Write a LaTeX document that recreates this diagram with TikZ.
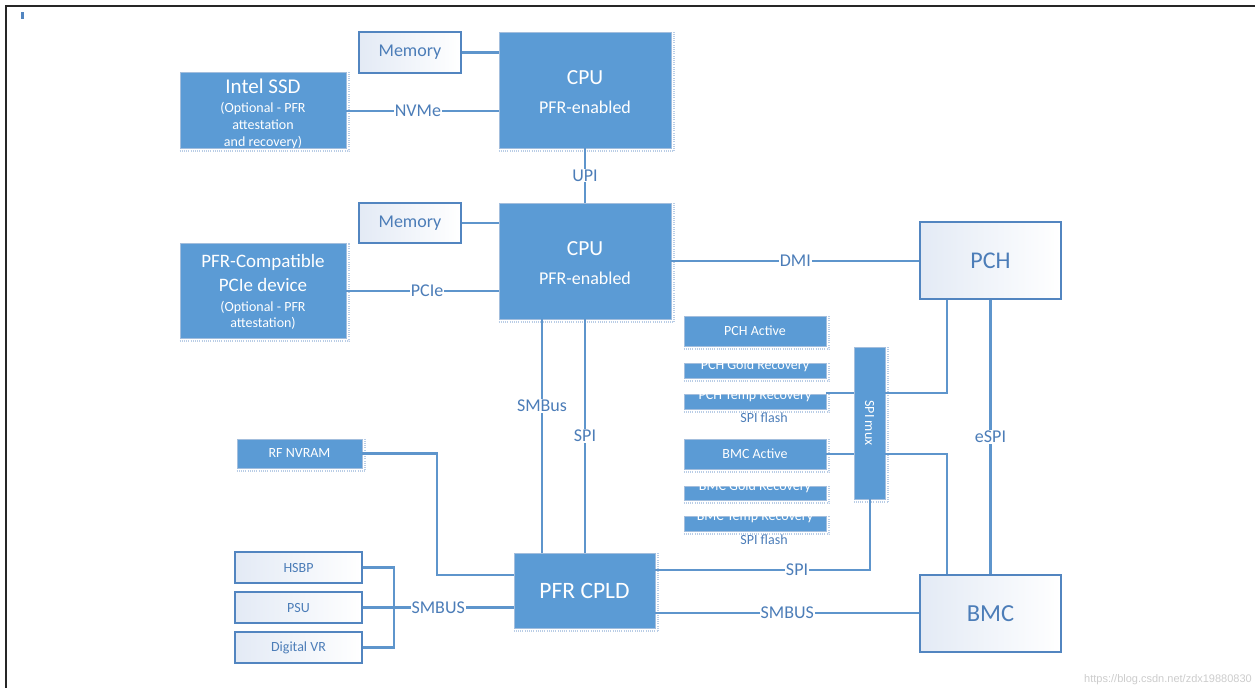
\documentclass[tikz,border=0pt]{standalone}
\usepackage{fontspec}
\setmainfont{Carlito}
\newfontfamily\wmfont{Liberation Sans}
\definecolor{cblue}{HTML}{5B9BD5}
\definecolor{cbord}{HTML}{A3BEDD}
\definecolor{cline}{HTML}{5E95CC}
\definecolor{ctext}{HTML}{4C7DB8}
\definecolor{cwb}{HTML}{5285C0}
\definecolor{cgrad}{HTML}{E3EAF5}
\definecolor{cdots}{HTML}{B9CDE6}
\begin{document}
\begin{tikzpicture}[x=1pt,y=-1pt,
  bbox/.style={fill=cblue, draw=cbord, line width=0.8pt, text=white, align=center, inner sep=0pt},
  wbox/.style={draw=cwb, line width=1.6pt, left color=cgrad, right color=white, text=ctext, align=center, inner sep=0pt},
  conn/.style={draw=cline, line width=2.2pt},
  lbl/.style={fill=white, text=ctext, inner sep=1pt, font=\fontsize{18}{20}\selectfont},
  sdots/.style={draw=cdots, line width=2pt, dash pattern=on 1pt off 1.2pt},
  wtxt/.style={text=white, inner sep=0pt},
  small/.style={font=\fontsize{14}{16}\selectfont},
]
\useasboundingbox (0,0) rectangle (1255,688);
% frame
\draw[black!85, line width=2pt] (1255,6) -- (6,6) -- (6,688);
\fill[cwb] (21,12) rectangle (23.5,19);

% blue boxes
\node[bbox, minimum width=172pt, minimum height=116pt] (cpu1) at (585,90) {};
\node[bbox, minimum width=166pt, minimum height=76pt] (ssd) at (263,110) {};
\node[bbox, minimum width=172pt, minimum height=116pt] (cpu2) at (585,261) {};
\node[bbox, minimum width=166pt, minimum height=95pt] (pfrdev) at (263,290.5) {};
\node[bbox, minimum width=31pt, minimum height=152pt] (mux) at (869.5,423) {};
\node[bbox, small, minimum width=142pt, minimum height=30pt] (pchact) at (755,331) {PCH Active};
\node[bbox, minimum width=142pt, minimum height=15pt] (pchgold) at (755,370.5) {};
\node[bbox, minimum width=142pt, minimum height=15pt] (pchtemp) at (755,401.5) {};
\node[bbox, small, minimum width=142pt, minimum height=30pt] (bmcact) at (755,454) {BMC Active};
\node[bbox, minimum width=142pt, minimum height=14pt] (bmcgold) at (755,493) {};
\node[bbox, minimum width=142pt, minimum height=15pt] (bmctemp) at (755,523.5) {};
\node[bbox, font=\fontsize{23.5}{26}\selectfont, minimum width=141pt, minimum height=75pt] (cpld) at (584.5,590.5) {PFR CPLD};
\node[bbox, small, minimum width=125pt, minimum height=29pt] (rfnv) at (299.5,453.5) {RF NVRAM};

\foreach \n in {cpu1,ssd,cpu2,pfrdev,mux,pchact,pchgold,pchtemp,bmcact,bmcgold,bmctemp,cpld,rfnv}
  \draw[sdots] ([yshift=-3pt]\n.south west) -| ([xshift=3pt]\n.north east);

% texts inside blue boxes
\node[wtxt, anchor=base, font=\fontsize{21.5}{24}\selectfont] (cpu1a) at (585,84) {CPU};
\node[wtxt, anchor=base, font=\fontsize{18}{20}\selectfont] (cpu1b) at (585,113) {PFR-enabled};
\node[wtxt, anchor=base, font=\fontsize{21.5}{24}\selectfont] (cpu2a) at (585,255) {CPU};
\node[wtxt, anchor=base, font=\fontsize{18}{20}\selectfont] (cpu2b) at (585,284) {PFR-enabled};
\node[wtxt, anchor=base, font=\fontsize{21}{23}\selectfont] (ssda) at (263,93) {Intel SSD};
\node[wtxt, anchor=base, font=\fontsize{14}{16}\selectfont] (ssdb) at (263,112) {(Optional - PFR};
\node[wtxt, anchor=base, font=\fontsize{14}{16}\selectfont] (ssdc) at (263,129.5) {attestation};
\node[wtxt, anchor=base, font=\fontsize{14}{16}\selectfont] (ssdd) at (263,146) {and recovery)};
\node[wtxt, anchor=base, font=\fontsize{19}{21}\selectfont] (pfra) at (263,267) {PFR-Compatible};
\node[wtxt, anchor=base, font=\fontsize{19}{21}\selectfont] (pfrb) at (263,291.5) {PCIe device};
\node[wtxt, anchor=base, font=\fontsize{14}{16}\selectfont] (pfrc) at (263,311) {(Optional - PFR};
\node[wtxt, anchor=base, font=\fontsize{14}{16}\selectfont] (pfrd) at (263,327) {attestation)};
\node[wtxt, small, anchor=base] (pchgoldt) at (755,369) {PCH Gold Recovery};
\node[wtxt, small, anchor=base] (pchtempt) at (755,399.5) {PCH Temp Recovery};
\node[wtxt, small, anchor=base] (bmcgoldt) at (755,490) {BMC Gold Recovery};
\node[wtxt, small, anchor=base] (bmctempt) at (755,520.5) {BMC Temp Recovery};
\node[wtxt, small, rotate=-90] (muxt) at (869.5,423) {SPI mux};
\node[text=ctext, small, inner sep=0pt] (spif1) at (764,418) {SPI flash};
\node[text=ctext, small, inner sep=0pt] (spif2) at (764,540) {SPI flash};

% white boxes
\node[wbox, font=\fontsize{18}{20}\selectfont, minimum width=102pt, minimum height=41pt] (mem1) at (410,52.5) {Memory};
\node[wbox, font=\fontsize{18}{20}\selectfont, minimum width=102pt, minimum height=40pt] (mem2) at (410,223) {Memory};
\node[wbox, font=\fontsize{24}{26}\selectfont, minimum width=141pt, minimum height=77pt] (pch) at (990.5,260.5) {PCH};
\node[wbox, font=\fontsize{24.5}{26}\selectfont, minimum width=141pt, minimum height=77pt] (bmc) at (990.5,613.5) {BMC};
\node[wbox, small, minimum width=127pt, minimum height=31pt] (hsbp) at (298.5,567.5) {HSBP};
\node[wbox, small, minimum width=127pt, minimum height=31pt] (psu) at (298.5,607.5) {PSU};
\node[wbox, small, minimum width=127pt, minimum height=31pt] (dvr) at (298.5,647.5) {Digital VR};

% helper coordinates
\coordinate (x947) at (947,0);
\coordinate (x870) at (870,0);
\coordinate (x542) at (542,0);
\coordinate (x437) at (437,0);
\coordinate (x394) at (394,0);
\coordinate (y393) at (0,393);
\coordinate (y454) at (0,454);
\coordinate (y570) at (0,570);
\coordinate (y575) at (0,575);
\coordinate (y613) at (0,613);
\coordinate (y111) at (0,111);
\coordinate (y291) at (0,291);

% connectors
\draw[conn] (mem1.east) -- (mem1.east -| cpu1.west);
\draw[conn] (ssd.east |- y111) -- node[lbl, pos=0.47] {NVMe} (cpu1.west |- y111);
\draw[conn] (cpu1.south) -- node[lbl] {UPI} (cpu2.north);
\draw[conn] (mem2.east) -- (mem2.east -| cpu2.west);
\draw[conn] (pfrdev.east |- y291) -- node[lbl, pos=0.53] {PCIe} (cpu2.west |- y291);
\draw[conn] (cpu2.east) -- node[lbl, pos=0.5] {DMI} (cpu2.east -| pch.west);
\draw[conn] (pch.south) -- node[lbl] {eSPI} (bmc.north);
\draw[conn] (pchtemp.east |- y393) -- (mux.west |- y393);
\draw[conn] (mux.east |- y393) -| (pch.south -| x947);
\draw[conn] (bmcact.east |- y454) -- (mux.west |- y454);
\draw[conn] (mux.east |- y454) -| (bmc.north -| x947);
\draw[conn] (mux.south -| x870) |- node[lbl, pos=0.67] {SPI} (cpld.east |- y570);
\draw[conn] (cpld.east |- y613) -- node[lbl, pos=0.5] {SMBUS} (bmc.west |- y613);
\draw[conn] (cpu2.south -| x542) -- node[lbl, pos=0.37] {SMBus} (cpld.north -| x542);
\draw[conn] (cpu2.south) -- node[lbl, pos=0.5] {SPI} (cpld.north -| cpu2.south);
\draw[conn] (rfnv.east) -| (x437 |- y575) -- (cpld.west |- y575);
\draw[conn] (hsbp.east) -| (x394 |- dvr.east) -- (dvr.east);
\draw[conn] (psu.east) -- node[lbl, pos=0.5] {SMBUS} (cpld.west |- psu.east);

% watermark
\node[text=gray!40, font=\wmfont\fontsize{11}{13}\selectfont, anchor=east, inner sep=0pt] (wm) at (1252,680) {https://blog.csdn.net/zdx19880830};
\end{tikzpicture}
\end{document}
